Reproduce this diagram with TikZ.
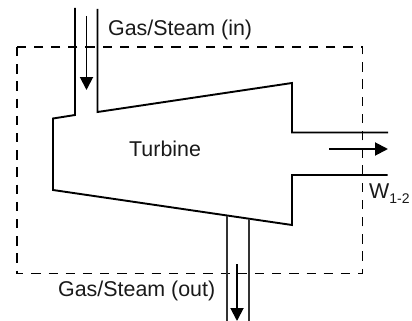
\documentclass[tikz,border=0pt]{standalone}
\usepackage{fontspec}
\setmainfont{Liberation Sans}
\usetikzlibrary{arrows.meta}
\tikzset{
  wall/.style={draw=black,line width=1.9pt,line join=miter},
  pipe/.style={draw=black!80,line width=2pt},
  flow/.style={draw=black,line width=1.9pt,-{Triangle[width=13pt,length=13pt]}},
  boundary/.style={draw=black,line width=1.9pt,dash pattern=on 9.3pt off 7.9pt},
  lbl/.style={inner sep=0pt,font=\fontsize{21.4}{24}\selectfont,text=black!90}
}
\begin{document}
\begin{tikzpicture}[x=1pt,y=-1pt]
\useasboundingbox (0,0) rectangle (412,321);
\draw[boundary] (17,47) rectangle (362.5,273.5);
\draw[wall] (75,8) -- (75,115) -- (53,118.5) -- (53,190) -- (292,225) -- (292,175) -- (387.5,175);
\draw[wall] (97.5,9) -- (97.5,112) -- (292,83) -- (292,132.5) -- (388,132.5);
\draw[pipe] (226.5,216) -- (226.5,321);
\draw[pipe] (248.5,219) -- (248.5,321);
\coordinate (inA) at (86.5,16);
\coordinate (inB) at (86.5,90);
\coordinate (wA) at (329,149);
\coordinate (wB) at (388,149);
\coordinate (outA) at (237,264);
\coordinate (outB) at (237,321);
\draw[flow] (inA) -- (inB);
\draw[flow] (wA) -- (wB);
\draw[flow] (outA) -- (outB);
\node[lbl,anchor=base west] (gin) at (108,35.5) {Gas/Steam (in)};
\node[lbl,anchor=base west] (turb) at (129,156.5) {Turbine};
\node[lbl,anchor=base west] (gout) at (58,296) {Gas/Steam (out)};
\node[lbl,anchor=base west] (w) at (369,198) {W\raisebox{-5pt}{\fontsize{14}{16}\selectfont 1-2}};
\end{tikzpicture}
\end{document}
